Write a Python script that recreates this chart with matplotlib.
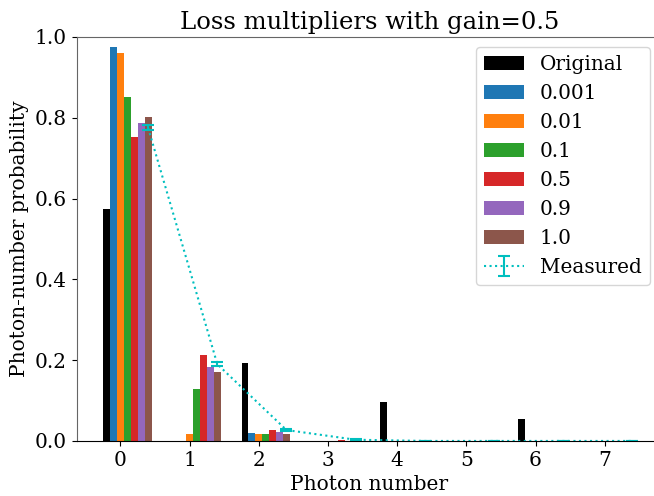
import numpy as np
import matplotlib
matplotlib.use("Agg")
import matplotlib.pyplot as plt

plt.rcParams["font.family"] = "DejaVu Serif"

# photon-number distributions
photon_n = np.arange(8)
original = [0.574, 0.0, 0.192, 0.0, 0.097, 0.0, 0.054, 0.0]
loss_labels = ["0.001", "0.01", "0.1", "0.5", "0.9", "1.0"]
loss_probs = [
    [0.975, 0.0, 0.020, 0.0, 0.0, 0.0, 0.0, 0.0],
    [0.960, 0.017, 0.017, 0.0, 0.0, 0.0, 0.0, 0.0],
    [0.851, 0.129, 0.017, 0.0, 0.0, 0.0, 0.0, 0.0],
    [0.752, 0.213, 0.028, 0.003, 0.0, 0.0, 0.0, 0.0],
    [0.787, 0.183, 0.022, 0.0, 0.0, 0.0, 0.0, 0.0],
    [0.802, 0.171, 0.018, 0.0, 0.0, 0.0, 0.0, 0.0],
]
measured = [0.775, 0.190, 0.027, 0.003, 0.0, 0.0, 0.0, 0.0]
measured_err = [0.006, 0.005, 0.003, 0.002, 0.0, 0.0, 0.0, 0.0]

width = 0.1

fig = plt.figure(figsize=(6.54, 4.96), dpi=100)
ax = fig.add_axes([0.117, 0.111, 0.896, 0.8145])

ax.bar(photon_n - 2 * width, original, width, color="black", label="Original")
for i, (lab, probs) in enumerate(zip(loss_labels, loss_probs)):
    ax.bar(photon_n + (i - 1) * width, probs, width, color=f"C{i}", label=lab)

ax.errorbar(photon_n + 0.4, measured, yerr=measured_err, color="c",
            linestyle=":", capsize=4.5, elinewidth=1.5, capthick=1.5,
            label="Measured")

ax.set_xlim(-0.635, 7.835)
ax.set_ylim(0, 1.0)
ax.set_xticks(photon_n)
ax.tick_params(labelsize=14.5)
ax.spines["left"].set_color("0.4")
ax.spines["top"].set_color("0.4")

ax.set_xlabel("Photon number", fontsize=14.5)
ax.set_ylabel("Photon-number probability", fontsize=14.5)
ax.set_title("Loss multipliers with gain=0.5", fontsize=17.5)
ax.legend(loc="upper right", fontsize=14.4, bbox_to_anchor=(0.995, 1.0))

fig.savefig("out.png", dpi=100)
